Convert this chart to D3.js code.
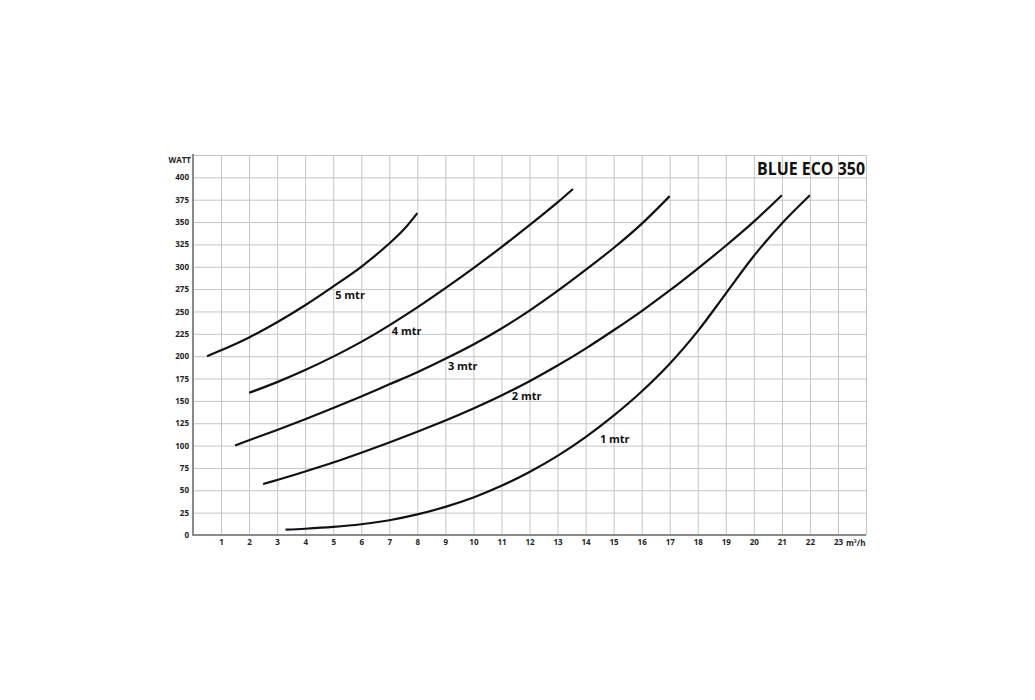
<!DOCTYPE html>
<html><head><meta charset="utf-8">
<script src="https://cdn.jsdelivr.net/npm/d3@7"></script>
<style>
html,body{margin:0;padding:0;background:#fff;}
svg{display:block;font-family:"Open Sans",sans-serif;}
</style></head>
<body><svg id="c" width="1035" height="700"></svg>
<script>
// ---- data ----
const title = "BLUE ECO 350";
const yLabel = "WATT";
const xUnit = "m³/h";
const xTicks = d3.range(1, 24);          // 1..23
const yTicks = d3.range(0, 401, 25);     // 0..400
const curve5 = [[0.5,200],[1,206.5],[2,221],[3,238],[4,257],[5,278],[6,300],[7,326],[7.5,341],[8,360]];
const curve4 = [[2,159],[3,171],[4,184.5],[5,199.5],[6,216],[7,234.5],[8,254.5],[9,276],[10,298.5],[11,322],[12,346.5],[13,372],[13.55,387]];
const curve3 = [[1.5,100],[2,106],[3,117.5],[4,129.5],[5,142],[6,155],[7,168.5],[8,182],[9,197],[10,213],[11,231],[12,251],[13,273],[14,296.5],[15,321],[16,348],[17,379]];
const curve2 = [[2.5,57],[3,61.5],[4,71],[5,81],[6,92],[7,103.5],[8,115.5],[9,128],[10,141.5],[11,156],[12,172],[13,189.5],[14,208.5],[15,229],[16,250.5],[17,273.5],[18,298],[19,323.5],[20,350.5],[21,380]];
const curve1 = [[3.3,6],[4,7],[5,9],[6,12],[7,16.5],[8,23],[9,31.5],[10,42],[11,55],[12,70.5],[13,88.5],[14,109.5],[15,133.5],[16,160.5],[17,191.5],[18,228],[19,270],[20,312],[21,348.5],[22,380]];
const curves = [curve5, curve4, curve3, curve2, curve1];
const labelText = ["5 mtr","4 mtr","3 mtr","2 mtr","1 mtr"];
const labelX = [5.07, 7.09, 9.09, 11.37, 14.51];
const labelY = [263.5, 223.5, 184, 151, 103];

// ---- layout ----
const L = 193, R = 866, T = 155, B = 535;
const x = d3.scaleLinear().domain([0, 24]).range([L, R]);
const y = d3.scaleLinear().domain([0, 425]).range([B, T]);
const svg = d3.select("#c");

// grid
const grid = svg.append("g");
grid.append("g").attr("transform", `translate(0,${B})`)
  .call(d3.axisBottom(x).tickValues(d3.range(1, 25)).tickSize(-(B - T)).tickFormat(""))
  .call(g => g.select(".domain").remove())
  .selectAll("line").attr("stroke", "#c4c4c4").attr("stroke-width", 1);
grid.append("g").attr("transform", `translate(${L},0)`)
  .call(d3.axisLeft(y).tickValues(d3.range(25, 426, 25)).tickSize(-(R - L)).tickFormat(""))
  .call(g => g.select(".domain").remove())
  .selectAll("line").attr("stroke", "#c4c4c4").attr("stroke-width", 1);

// axes
const ya = svg.append("g").attr("transform", `translate(${L},0)`)
  .call(d3.axisLeft(y).tickValues(yTicks).tickSize(0).tickPadding(4));
ya.select(".domain").remove();
ya.selectAll("text").attr("font-size", 8).attr("font-weight", "bold").attr("fill", "#222")
  .attr("font-family", "'Open Sans',sans-serif");
const xa = svg.append("g").attr("transform", `translate(0,${B})`)
  .call(d3.axisBottom(x).tickValues(xTicks).tickSize(0).tickPadding(4));
xa.select(".domain").remove();
xa.selectAll("text").attr("font-size", 8).attr("font-weight", "bold").attr("fill", "#222")
  .attr("font-family", "'Open Sans',sans-serif");

svg.append("line").attr("x1", L).attr("x2", L).attr("y1", T - 1).attr("y2", B + 1)
  .attr("stroke", "#8a8a8a").attr("stroke-width", 2);
svg.append("line").attr("x1", L).attr("x2", R).attr("y1", B).attr("y2", B)
  .attr("stroke", "#8a8a8a").attr("stroke-width", 2);

svg.append("text").attr("x", L - 2).attr("y", T + 8).attr("text-anchor", "end")
  .attr("font-size", 8).attr("font-weight", "bold").attr("fill", "#222").text(yLabel);
svg.append("text").attr("x", x(23) + 8).attr("y", B + 11)
  .attr("font-size", 8).attr("font-weight", "bold").attr("fill", "#222").text(xUnit);

// title
svg.append("text").attr("x", R - 1).attr("y", T + 20).attr("text-anchor", "end")
  .attr("font-size", 17).attr("font-weight", "bold").attr("fill", "#111")
  .attr("textLength", 108).attr("lengthAdjust", "spacingAndGlyphs").text(title);

// curves
const line = d3.line().x(d => x(d[0])).y(d => y(d[1])).curve(d3.curveCatmullRom.alpha(0.5));
svg.append("g").selectAll("path").data(curves).join("path")
  .attr("d", line).attr("fill", "none").attr("stroke", "#111").attr("stroke-width", 2.2);

// labels
svg.append("g").selectAll("text").data(labelText).join("text")
  .attr("x", (d, i) => x(labelX[i])).attr("y", (d, i) => y(labelY[i]))
  .attr("font-size", 11).attr("font-weight", "bold").attr("fill", "#111").text(d => d);
</script></body></html>
